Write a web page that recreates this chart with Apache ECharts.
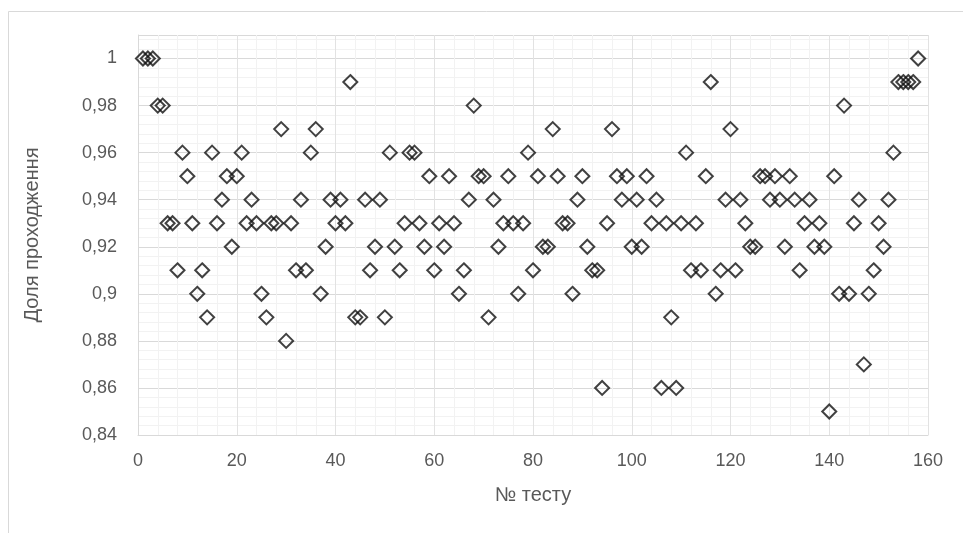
<!DOCTYPE html>
<html><head><meta charset="utf-8">
<script src="https://cdn.jsdelivr.net/npm/echarts@6/dist/echarts.min.js"></script>
<style>html,body{margin:0;padding:0;background:#fff}#c{width:963px;height:533px}</style>
</head><body><div id="c"></div>
<script>
const testNumbers = Array.from({length: 158}, (_, i) => i + 1);
const passRates = [
  1, 1, 1, 0.98, 0.98, 0.93, 0.93, 0.91, 0.96, 0.95,
  0.93, 0.90, 0.91, 0.89, 0.96, 0.93, 0.94, 0.95, 0.92, 0.95,
  0.96, 0.93, 0.94, 0.93, 0.90, 0.89, 0.93, 0.93, 0.97, 0.88,
  0.93, 0.91, 0.94, 0.91, 0.96, 0.97, 0.90, 0.92, 0.94, 0.93,
  0.94, 0.93, 0.99, 0.89, 0.89, 0.94, 0.91, 0.92, 0.94, 0.89,
  0.96, 0.92, 0.91, 0.93, 0.96, 0.96, 0.93, 0.92, 0.95, 0.91,
  0.93, 0.92, 0.95, 0.93, 0.90, 0.91, 0.94, 0.98, 0.95, 0.95,
  0.89, 0.94, 0.92, 0.93, 0.95, 0.93, 0.90, 0.93, 0.96, 0.91,
  0.95, 0.92, 0.92, 0.97, 0.95, 0.93, 0.93, 0.90, 0.94, 0.95,
  0.92, 0.91, 0.91, 0.86, 0.93, 0.97, 0.95, 0.94, 0.95, 0.92,
  0.94, 0.92, 0.95, 0.93, 0.94, 0.86, 0.93, 0.89, 0.86, 0.93,
  0.96, 0.91, 0.93, 0.91, 0.95, 0.99, 0.90, 0.91, 0.94, 0.97,
  0.91, 0.94, 0.93, 0.92, 0.92, 0.95, 0.95, 0.94, 0.95, 0.94,
  0.92, 0.95, 0.94, 0.91, 0.93, 0.94, 0.92, 0.93, 0.92, 0.85,
  0.95, 0.90, 0.98, 0.90, 0.93, 0.94, 0.87, 0.90, 0.91, 0.93,
  0.92, 0.94, 0.96, 0.99, 0.99, 0.99, 0.99, 1
];
const xTitle = '№ тесту';
const yTitle = 'Доля проходження';

const fontFam = "'Liberation Sans',sans-serif";
const chart = echarts.init(document.getElementById('c'), null, {renderer: 'canvas'});
chart.setOption({
  animation: false,
  backgroundColor: '#fff',
  graphic: [{
    type: 'rect', left: 6, top: 9, shape: {width: 1000, height: 600},
    style: {fill: 'none', stroke: '#d9d9d9', lineWidth: 1}, silent: true, z: -1
  }],
  grid: {left: 138, right: 35, top: 35, bottom: 98, show: false},
  xAxis: {
    type: 'value', min: 0, max: 160, interval: 20,
    name: xTitle, nameLocation: 'middle', nameGap: 50,
    nameTextStyle: {color: '#595959', fontSize: 20, fontFamily: fontFam},
    axisLine: {show: true, lineStyle: {color: '#d9d9d9'}},
    axisTick: {show: false},
    axisLabel: {color: '#595959', fontSize: 18, fontFamily: fontFam, margin: 17},
    splitLine: {show: true, lineStyle: {color: '#e2e2e2'}},
    minorTick: {show: false, splitNumber: 5},
    minorSplitLine: {show: true, lineStyle: {color: '#f2f2f2'}}
  },
  yAxis: {
    type: 'value', min: 0.84, max: 1.01, interval: 0.02,
    name: yTitle, nameLocation: 'middle', nameGap: 96, nameRotate: 90,
    nameTextStyle: {color: '#595959', fontSize: 20, fontFamily: fontFam},
    axisLine: {show: true, lineStyle: {color: '#d9d9d9'}},
    axisTick: {show: false},
    axisLabel: {color: '#595959', fontSize: 18, fontFamily: fontFam, margin: 21,
      showMaxLabel: false,
      formatter: v => String(+v.toFixed(2)).replace('.', ',')},
    splitLine: {show: true, lineStyle: {color: '#d9d9d9'}},
    minorTick: {show: false, splitNumber: 5},
    minorSplitLine: {show: true, lineStyle: {color: '#f2f2f2'}}
  },
  series: [{
    type: 'scatter',
    data: testNumbers.map((n, i) => [n, passRates[i]]),
    symbol: 'diamond',
    symbolSize: [14, 14],
    itemStyle: {color: 'rgba(255,255,255,0)', borderColor: '#111', borderWidth: 2}
  }]
});
</script>
</body></html>
